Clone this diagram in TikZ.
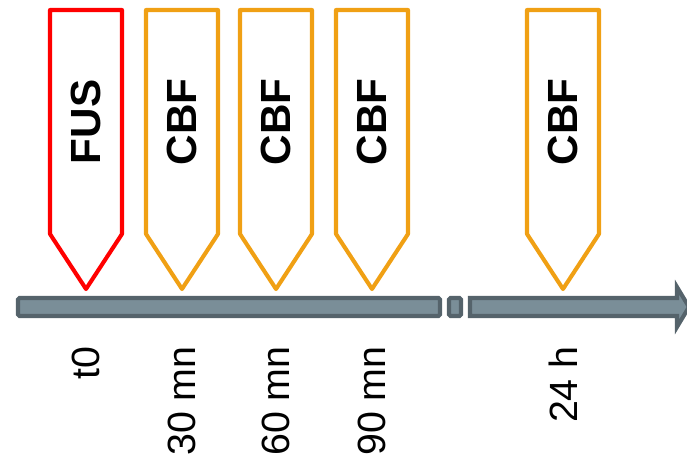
\documentclass[tikz,border=0pt]{standalone}
\usepackage{fontspec}
\setmainfont{Liberation Sans}
\usetikzlibrary{positioning}
\definecolor{fusred}{RGB}{255,0,0}
\definecolor{cbforange}{RGB}{240,160,20}
\definecolor{barfill}{RGB}{122,142,152}
\definecolor{bardraw}{RGB}{85,99,107}
\tikzstyle{marker} = [line width=2.9pt, fill=white, line join=round]
\tikzstyle{tag} = [rotate=90, font=\fontsize{30}{36}\selectfont\bfseries, inner sep=0pt]
\tikzstyle{when} = [rotate=90, anchor=east, font=\fontsize{28}{33}\selectfont, inner sep=0pt]
\tikzstyle{bar} = [line width=2.9pt, draw=bardraw, fill=barfill, rounded corners=1pt]

\begin{document}
\begin{tikzpicture}[x=0.025cm, y=-0.025cm]
        \useasboundingbox (0,0) rectangle (687,455);
        % timeline
        \draw[bar] (18,298) rectangle (440,316);
        \draw[bar] (449,298) rectangle (461,316);
        \draw[bar, rounded corners=0pt] (470,298) -- (677,298) -- (677,287) -- (689,307) -- (677,327) -- (677,316) -- (470,316) -- cycle;
        % markers and times
        \foreach \x/\name/\lab/\col/\t in {86/fus/FUS/fusred/t0, 182/cbfa/CBF/cbforange/30 mn, 276/cbfb/CBF/cbforange/60 mn, 372/cbfc/CBF/cbforange/90 mn, 563/cbfd/CBF/cbforange/24 h}{
          \draw[marker, draw=\col] (\x-36,10) -- (\x+36,10) -- (\x+36,234) -- (\x,289) -- (\x-36,234) -- cycle;
          \node[tag] (\name) at (\x,122) {\lab};
          \node[when] (\name-t) at (\x,346) {\t};
        }
        % \draw[red, dashed] (0,0) -- (687,455);
\end{tikzpicture}
\end{document}
